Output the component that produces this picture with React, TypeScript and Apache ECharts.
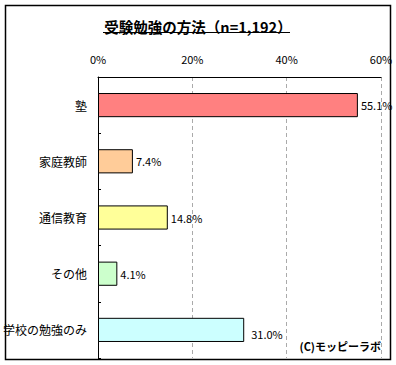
import React, { useEffect, useRef } from "react";
import * as echarts from "echarts";

const categories = ["塾", "家庭教師", "通信教育", "その他", "学校の勉強のみ"];
const values = [55.1, 7.4, 14.8, 4.1, 31.0];
const barColors = ["#FF8080", "#FFCC99", "#FFFF99", "#CCFFCC", "#CCFFFF"];
const tickValues = [0, 20, 40, 60];
const titleText = "受験勉強の方法（n=1,192）";
const creditText = "(C)モッピーラボ";

const FONT = "'Noto Sans CJK JP', sans-serif";

export default function App() {
  const ref = useRef<HTMLDivElement>(null);
  useEffect(() => {
    if (!ref.current) return;
    const chart = echarts.init(ref.current, null, { renderer: "svg" });
    chart.setOption({
      animation: false,
      backgroundColor: "#fff",
      title: {
        text: titleText,
        left: "center",
        top: 14,
        textStyle: { fontFamily: FONT, fontSize: 14.5, fontWeight: "bold", color: "#000" },
      },
      graphic: [
        { type: "rect", shape: { x: 5.5, y: 5.5, width: 385, height: 354 }, style: { fill: "none", stroke: "#000", lineWidth: 1.5 }, silent: true },
        { type: "line", shape: { x1: 103, y1: 32.5, x2: 290, y2: 32.5 }, style: { stroke: "#000", lineWidth: 1 } },
        {
          type: "text",
          right: 15,
          top: 340,
          style: { text: creditText, font: `bold 11px ${FONT}`, fill: "#000" },
        },
      ],
      grid: { left: 97, right: 15, top: 77, bottom: 7, containLabel: false },
      xAxis: {
        type: "value",
        position: "top",
        min: 0,
        max: 60,
        interval: 20,
        axisLine: { show: true, lineStyle: { color: "#000", width: 1 } },
        axisTick: { show: false },
        axisLabel: {
          fontFamily: FONT,
          fontSize: 11,
          color: "#000",
          margin: 13,
          formatter: (v: number) => (tickValues.includes(v) ? v + "%" : ""),
        },
        splitLine: { show: true, lineStyle: { color: "#aaa", type: [4, 3], width: 1 } },
      },
      yAxis: {
        type: "category",
        inverse: true,
        data: categories,
        axisLine: { show: true, lineStyle: { color: "#000", width: 1 } },
        axisTick: { show: true, inside: true, length: 3, lineStyle: { color: "#000" } },
        axisLabel: { fontFamily: FONT, fontSize: 12, color: "#000", margin: 11 },
      },
      series: [
        {
          type: "bar",
          data: values.map((v, i) => ({
            value: v,
            itemStyle: { color: barColors[i], borderColor: "#000", borderWidth: 1 },
            label: i === 4 ? { distance: 7, offset: [0, 4] } : undefined,
          })),
          barWidth: "43%",
          label: {
            show: true,
            position: "right",
            distance: 3,
            fontFamily: FONT,
            fontSize: 11,
            color: "#000",
            formatter: (p: any) => p.value.toFixed(1) + "%",
          },
        },
      ],
    });
    return () => chart.dispose();
  }, []);
  return <div ref={ref} style={{ width: 396, height: 365, position: "absolute", left: 0, top: 0 }} />;
}
